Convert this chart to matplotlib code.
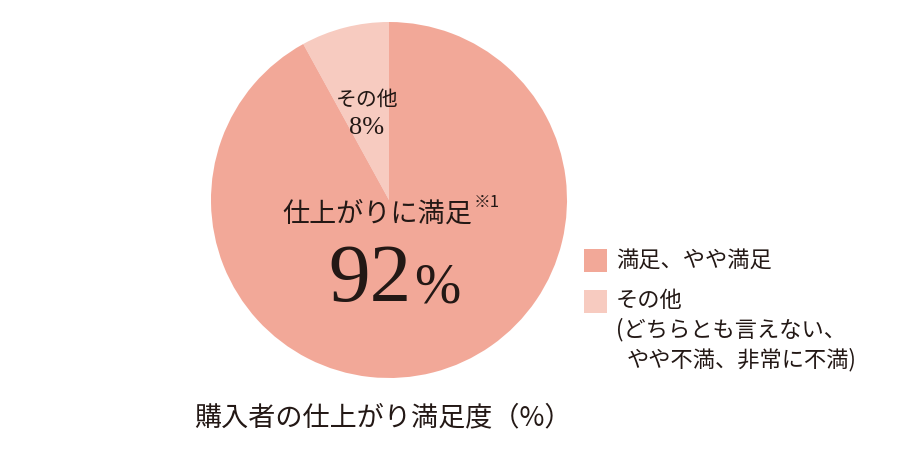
import matplotlib
matplotlib.use("Agg")
import matplotlib.pyplot as plt
from matplotlib.patches import Rectangle

plt.rcParams['font.family'] = ['Noto Sans CJK JP', 'DejaVu Sans']

categories = ["その他", "満足、やや満足"]
values = [8, 92]
colors = ["#F7CBC0", "#F2A898"]
legend_labels = ["満足、やや満足", "その他", "(どちらとも言えない、", "やや不満、非常に不満)"]
legend_colors = ["#F2A898", "#F7CBC0"]
title = "購入者の仕上がり満足度（%）"
main_label = "仕上がりに満足"
note_mark = "※1"

W, H = 920, 469
fig = plt.figure(figsize=(W / 100, H / 100), dpi=100)
fig.patch.set_facecolor("white")

cx, cy, r = 389, 200, 178
ax = fig.add_axes([(cx - r) / W, (H - cy - r) / H, 2 * r / W, 2 * r / H])
wedges, _ = ax.pie(values, colors=colors, startangle=90, counterclock=True,
                   radius=1, wedgeprops=dict(linewidth=0))
ax.set_xlim(-1, 1)
ax.set_ylim(-1, 1)
ax.set_aspect("equal")
ax.axis("off")

tc = "#231815"


def fx(px):
    return px / W


def fy(py):
    return 1 - py / H


# small slice label
fig.text(fx(367), fy(100), categories[0], ha="center", va="center", fontsize=15, color=tc)
fig.text(fx(367), fy(128), f"{values[0]}%", ha="center", va="center", fontsize=19,
         color=tc, family="Liberation Serif")

# main label
fig.text(fx(377), fy(214), main_label, ha="center", va="center", fontsize=19.5, color=tc)
fig.text(fx(474), fy(202), note_mark, ha="left", va="center", fontsize=12, color=tc)
fig.text(fx(412), fy(281), f"{values[1]}", ha="right", va="center", fontsize=60,
         color=tc, family="Liberation Serif")
fig.text(fx(414), fy(288), "%", ha="left", va="center", fontsize=40,
         color=tc, family="Liberation Serif")

# legend (manual)
sq = 23
for col, y in zip(legend_colors, [260, 301]):
    fig.add_artist(Rectangle((fx(584), fy(y + sq / 2)), sq / W, sq / H,
                             transform=fig.transFigure, facecolor=col, edgecolor="none"))

fig.text(fx(616), fy(260), legend_labels[0], ha="left", va="center", fontsize=16, color=tc)
fig.text(fx(616), fy(300), legend_labels[1], ha="left", va="center", fontsize=16, color=tc)
fig.text(fx(616), fy(330), legend_labels[2], ha="left", va="center", fontsize=16, color=tc)
fig.text(fx(627), fy(360), legend_labels[3], ha="left", va="center", fontsize=16, color=tc)

fig.text(fx(383), fy(418), title, ha="center", va="center", fontsize=19.5, color=tc)

fig.savefig("out.png", dpi=100, facecolor="white")
